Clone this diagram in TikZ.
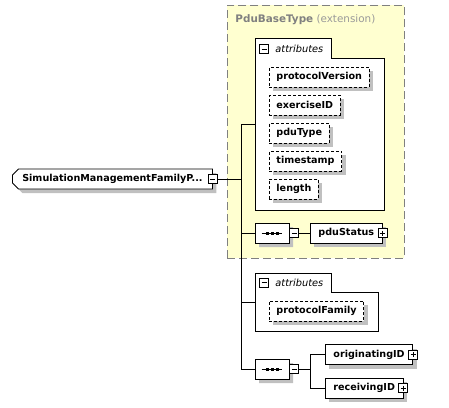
\documentclass[tikz,border=0pt]{standalone}
\usepackage{fontspec}
\setmainfont{DejaVu Sans}
\usepackage{xcolor}
\usetikzlibrary{shapes.misc, shadows, positioning}
\definecolor{baseyellow}{RGB}{255,255,208}
\definecolor{shadowgrey}{RGB}{192,192,192}
\definecolor{basegrey}{RGB}{128,128,128}
\newcommand{\namefont}{\bfseries\fontsize{9.6}{11}\selectfont}
\tikzset{
  boxshadow/.style={drop shadow={shadow xshift=4pt, shadow yshift=-4pt, fill=shadowgrey, opacity=1}},
  elem/.style={draw, fill=white, boxshadow, font=\namefont, minimum height=20pt,
               inner xsep=8pt, inner ysep=0pt, anchor=west},
  attr/.style={elem, dash pattern=on 3pt off 2pt, inner xsep=7pt},
  seq/.style={draw, fill=white, boxshadow, chamfered rectangle, chamfered rectangle xsep=5pt,
              chamfered rectangle ysep=5pt, minimum width=34pt, minimum height=20pt, inner sep=0pt},
  toggle/.style={draw, fill=white, minimum size=9pt, inner sep=0pt},
  minus/.style={toggle, path picture={
      \draw ([xshift=2pt]path picture bounding box.west) -- ([xshift=-2pt]path picture bounding box.east);}},
  plus/.style={toggle, path picture={
      \draw ([xshift=2pt]path picture bounding box.west) -- ([xshift=-2pt]path picture bounding box.east);
      \draw ([yshift=-2pt]path picture bounding box.north) -- ([yshift=2pt]path picture bounding box.south);}},
  grptitle/.style={anchor=west, inner sep=0pt, font=\itshape\fontsize{9.8}{11}\selectfont}
}

\begin{document}
\begin{tikzpicture}[x=1pt, y=-1pt, line width=0.9pt]
        \useasboundingbox (0,0) rectangle (449,407);
        % extension base
        \node[draw=basegrey, dash pattern=on 8pt off 4pt, fill=baseyellow, minimum width=177pt,
              minimum height=253pt, anchor=north west] (base) at (227,5) {};
        \node[anchor=west, inner sep=0pt, text=basegrey, font=\fontsize{10.4}{12}\selectfont]
              (baseTitle) at (235,20) {\textbf{PduBaseType} {\color{basegrey!80}(extension)}};
        % first attribute group
        \node[minimum width=129pt, minimum height=172pt, anchor=north west, inner sep=0pt] (attrA) at (255,38) {};
        \draw[fill=white] (attrA.north west) -- ++(76,0) -- ++(0,20) -| (attrA.south east)
              -- (attrA.south west) -- cycle;
        \node[minus] (attrAmin) at (264,49) {};
        \node[grptitle] (attrAtitle) at (275,49) {attributes};
        \node[attr] (protocolVersion) at (269,77) {protocolVersion};
        \node[attr] (exerciseID) at (269,105) {exerciseID};
        \node[attr] (pduType) at (269,133) {pduType};
        \node[attr] (timestamp) at (269,161) {timestamp};
        \node[attr] (length) at (269,189) {length};
        % pduStatus sequence
        \node[seq] (seqA) at (272,233) {};
        \node[minus, anchor=west] (seqAmin) at (seqA.east) {};
        \node[elem] (pduStatus) at (310,233) {pduStatus\hspace{4pt}};
        \node[plus] (pduStatusplus) at (pduStatus.east) {};
        % second attribute group
        \node[minimum width=123pt, minimum height=58pt, anchor=north west, inner sep=0pt] (attrB) at (255,273) {};
        \draw[fill=white] (attrB.north west) -- ++(76,0) -- ++(0,19) -| (attrB.south east)
              -- (attrB.south west) -- cycle;
        \node[minus] (attrBmin) at (264,282.5) {};
        \node[grptitle] (attrBtitle) at (275,282.5) {attributes};
        \node[attr] (protocolFamily) at (269,311) {protocolFamily};
        % id sequence
        \node[seq] (seqB) at (272,369) {};
        \node[minus, anchor=west] (seqBmin) at (seqB.east) {};
        \node[elem] (originatingID) at (325,354.5) {originatingID\hspace{4pt}};
        \node[plus] (originatingIDplus) at (originatingID.east) {};
        \node[elem] (receivingID) at (325,388) {receivingID\hspace{4pt}};
        \node[plus] (receivingIDplus) at (receivingID.east) {};
        % main element
        \node[elem, chamfered rectangle, chamfered rectangle corners={north west, south west},
              chamfered rectangle xsep=3pt, chamfered rectangle ysep=3pt, inner xsep=5pt,
              minimum width=200pt] (smf) at (12,179) {SimulationManagementFamilyP...\hspace{8pt}};
        \node[minus] (smfmin) at (smf.east) {};
        % connectors
        \coordinate (spine) at (241,179);
        \draw (smfmin.east) -- (spine);
        \draw (attrA.west) -- (attrA.west -| spine) |- (seqB.west);
        \draw (seqA.west) -- (seqA.west -| spine);
        \draw (attrB.west) -- (attrB.west -| spine);
        \draw (seqAmin.east) -- (pduStatus.west);
        \draw (seqBmin.east) -- ++(11,0) coordinate (fork);
        \draw (originatingID.west) -| (fork) |- (receivingID.west);
        \foreach \s in {seqA, seqB} {
          \draw ([xshift=7pt]\s.west) -- ([xshift=-7pt]\s.east);
          \foreach \dx in {-5,0,5}
            \fill ([shift={(\dx-1.5,-1.5)}]\s.center) rectangle +(3,3);
        }
\end{tikzpicture}
\end{document}
